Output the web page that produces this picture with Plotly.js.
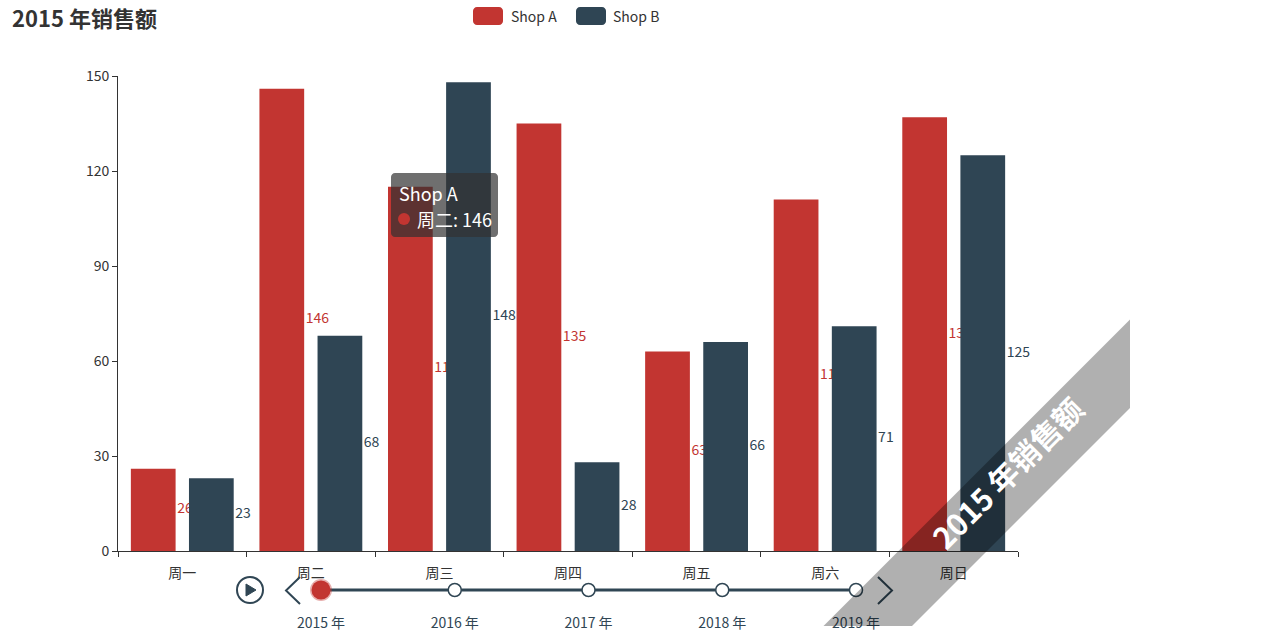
<!DOCTYPE html>
<html><head><meta charset="utf-8">
<script src="https://cdn.plot.ly/plotly-3.0.1.min.js"></script>
<style>html,body{margin:0;padding:0;background:#fff;overflow:hidden}</style>
</head><body><div id="chart" style="width:1264px;height:630px"></div>
<script>
const categories = ['周一','周二','周三','周四','周五','周六','周日'];
const shopA = [26,146,115,135,63,111,137];
const shopB = [23,68,148,28,66,71,125];
const years = ['2015 年','2016 年','2017 年','2018 年','2019 年'];
const titleText = '2015 年销售额';
const seriesNames = ['Shop A','Shop B'];

const W=1264,H=630, RED='#c23531', NAVY='#2f4554', FONT='"Noto Sans CJK SC","Noto Sans",sans-serif';
const px=x=>x/W, py=y=>1-y/H;
const P=(pts)=>pts.map((p,i)=>p==='Z'?'Z':(i?'L':'M')+px(p[0])+','+py(p[1])).join(' ');
function roundRect(x0,y0,x1,y1,r){
  const k=r*0.45;
  const c=(a,b,e,f,g,h)=>`C${px(a)},${py(b)} ${px(e)},${py(f)} ${px(g)},${py(h)}`;
  return `M${px(x0+r)},${py(y0)} L${px(x1-r)},${py(y0)} `+c(x1-k,y0,x1,y0+k,x1,y0+r)+` L${px(x1)},${py(y1-r)} `+c(x1,y1-k,x1-k,y1,x1-r,y1)+` L${px(x0+r)},${py(y1)} `+c(x0+k,y1,x0,y1-k,x0,y1-r)+` L${px(x0)},${py(y0+r)} `+c(x0,y0+k,x0+k,y0,x0+r,y0)+' Z';
}
const idx=categories.map((_,i)=>i);
const BW=0.348, OA=-0.4, OB=0.052;
const barTrace=(y,name,color,off,xa,ya)=>({type:'bar',x:idx,y:y,name:name,width:BW,offset:off,marker:{color:color,line:{width:0}},xaxis:xa,yaxis:ya,hoverinfo:'skip',showlegend:false});
const labelTrace=(y,color,off,xa,ya)=>({type:'scatter',mode:'text',x:idx.map(i=>i+off+BW+0.012),y:y.map(v=>v/2),text:y.map(String),textposition:'middle right',textfont:{color:color,size:14,family:FONT},xaxis:xa,yaxis:ya,hoverinfo:'skip',showlegend:false,cliponaxis:false});

const data=[
 barTrace(shopA,seriesNames[0],RED,OA,'x','y'),
 labelTrace(shopA,RED,OA,'x','y'),
 barTrace(shopB,seriesNames[1],NAVY,OB,'x2','y2'),
 labelTrace(shopB,NAVY,OB,'x2','y2'),
 {type:'scatter',mode:'lines+markers',x:years,y:years.map(()=>0),xaxis:'x3',yaxis:'y3',cliponaxis:false,hoverinfo:'skip',showlegend:false,
  line:{color:'#304654',width:3},
  marker:{size:[19,13,13,13,13],color:[RED,'#fff','#fff','#fff','#fff'],line:{width:[3,1.5,1.5,1.5,1.5],color:['rgba(194,53,49,0.4)','#304654','#304654','#304654','#304654']},opacity:1}}
];
const xDom=[px(118),px(1018)], yDom=[py(551),py(76)];
const shapes=[
 // legend icons
 {type:'path',path:roundRect(473,7,503,25,4),fillcolor:RED,line:{width:0},xref:'paper',yref:'paper'},
 {type:'path',path:roundRect(576,7,606,25,4),fillcolor:NAVY,line:{width:0},xref:'paper',yref:'paper'},
 // play button
 {type:'circle',xref:'paper',yref:'paper',x0:px(237),x1:px(263),y0:py(603),y1:py(577),line:{color:'#304654',width:2},fillcolor:'rgba(0,0,0,0)'},
 {type:'path',xref:'paper',yref:'paper',path:P([[246,584],[256,590],[246,596],'Z']),fillcolor:'#304654',line:{color:'#304654',width:1}},
 // prev / next
 {type:'path',xref:'paper',yref:'paper',path:P([[300,577],[286,590.5],[300,604]]),line:{color:'#304654',width:2},fillcolor:'rgba(0,0,0,0)'},
 {type:'path',xref:'paper',yref:'paper',path:P([[878,577],[892,590.5],[878,604]]),line:{color:'#304654',width:2},fillcolor:'rgba(0,0,0,0)'},
 // ribbon
 {type:'path',xref:'paper',yref:'paper',path:P([[823.5,626],[1130,319.5],[1130,408],[912,626],'Z']),fillcolor:'rgba(0,0,0,0.31)',line:{width:0},layer:'above'},
 // tooltip
 {type:'path',xref:'paper',yref:'paper',path:roundRect(391,173,498,237,4),fillcolor:'rgba(50,50,50,0.7)',line:{width:0},layer:'above'},
 {type:'circle',xref:'paper',yref:'paper',x0:px(398),x1:px(410),y0:py(225),y1:py(213),fillcolor:RED,line:{width:0},layer:'above'}
];
const ann=(text,x,y,size,color,extra)=>Object.assign({xref:'paper',yref:'paper',x:px(x),y:py(y),text:text,showarrow:false,xanchor:'left',yanchor:'middle',font:{family:FONT,size:size,color:color},borderpad:0},extra||{});
const annotations=[
 ann(seriesNames[0],510,16,14,'#333'),
 ann(seriesNames[1],612,16,14,'#333'),
 ann(titleText,1007,472,30,'#fff',{xanchor:'center',textangle:-45,font:{family:FONT,size:30,color:'#fff',weight:700}}),
 ann(seriesNames[0],398,193,18,'#fff'),
 ann(categories[1]+': '+shopA[1],416,219,18,'#fff')
];
const tickFont={family:FONT,size:14,color:'#333'};
const layout={
 width:W,height:H,margin:{l:0,r:0,t:0,b:0,autoexpand:false},paper_bgcolor:'#fff',plot_bgcolor:'rgba(0,0,0,0)',
 showlegend:false,font:{family:FONT},hovermode:false,
 title:{text:titleText,x:px(12),xanchor:'left',xref:'paper',y:py(19),yanchor:'middle',yref:'paper',font:{family:FONT,size:22,color:'#333',weight:700}},
 xaxis:{domain:xDom,range:[-0.5,6.5],anchor:'y',tickmode:'array',tickvals:idx,ticktext:categories,ticks:'outside',ticklen:0,tickcolor:'rgba(0,0,0,0)',ticklabelstandoff:9,tickfont:{family:FONT,size:14,color:'#333'},showline:true,linecolor:'#333',linewidth:1,showgrid:false,zeroline:false,
   minor:{tickmode:'array',tickvals:[-0.5,0.5,1.5,2.5,3.5,4.5,5.5,6.5],ticks:'outside',ticklen:5,tickcolor:'#333',tickwidth:1,showgrid:false}},
 yaxis:{domain:yDom,range:[0,150],anchor:'x',tickmode:'array',tickvals:[0,30,60,90,120,150],ticks:'outside',ticklen:5,tickcolor:'#333',tickfont:tickFont,showline:true,linecolor:'#333',linewidth:1,showgrid:false,zeroline:false},
 xaxis2:{overlaying:'x',domain:xDom,range:[-0.5,6.5],anchor:'y2',visible:false},
 yaxis2:{overlaying:'y',domain:yDom,range:[0,150],anchor:'x2',visible:false},
 xaxis3:{domain:[px(321),px(856)],type:'category',categoryarray:years,range:[0,4],anchor:'y3',ticks:'outside',ticklen:10,tickcolor:'rgba(0,0,0,0)',tickfont:{family:FONT,size:14,color:'#304654'},showline:false,showgrid:false,zeroline:false},
 yaxis3:{domain:[py(600),py(580)],range:[-1,1],anchor:'x3',visible:false},
 shapes:shapes,annotations:annotations
};
Plotly.newPlot('chart',data,layout,{displayModeBar:false,staticPlot:true});
</script></body></html>
